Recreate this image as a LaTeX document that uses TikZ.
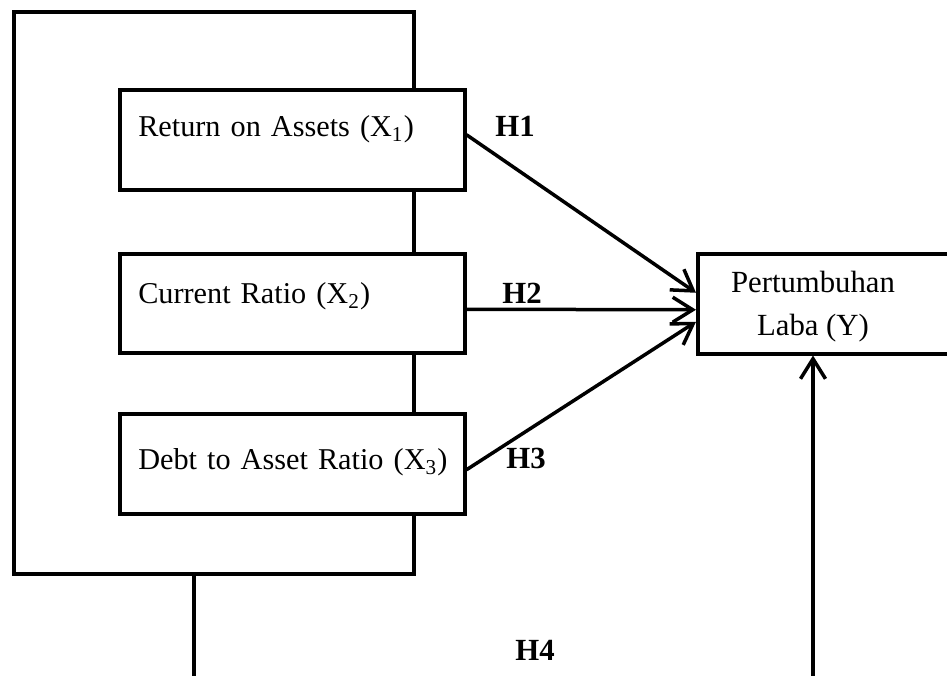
\documentclass[tikz,border=0pt]{standalone}
\usepackage{fontspec}
\setmainfont{Liberation Serif}
\usetikzlibrary{arrows.meta,calc}
\begin{document}
\begin{tikzpicture}[x=0.4pt,y=-0.4pt, line width=1.4pt,
  vbox/.style={draw, fill=white, inner ysep=0pt, inner xsep=7.4pt, text width=123.2pt,
    align=left, minimum height=40pt, anchor=north west, font=\fontsize{12.1}{14}\selectfont},
  arr/.style={-{Straight Barb[length=8pt,width=10pt]}},
  hlab/.style={font=\fontsize{12.3}{14}\selectfont\bfseries, inner sep=0pt}]
\clip (0,0) rectangle (947,675);
% outer frame
\node[draw, anchor=north west, inner sep=0pt, minimum width=160pt, minimum height=224.8pt] (frame) at (12,10) {};
% variable boxes
\node[vbox, text height=18.8pt, text depth=21.2pt] (b1) at (118,88) {\mbox{Return on Assets (X\textsubscript{1})}};
\node[vbox, text height=19.9pt, text depth=19.7pt, minimum height=39.6pt] (b2) at (118,252) {\mbox{Current Ratio (X\textsubscript{2})}};
\node[vbox, text height=22.4pt, text depth=17.6pt] (b3) at (118,412) {\mbox{Debt to Asset Ratio (X\textsubscript{3})}};
% dependent box
\node[draw, anchor=north west, inner sep=0pt, minimum width=105.6pt, minimum height=40pt] (ybox) at (696,252) {};
\node[align=center, font=\fontsize{12.3}{17.2}\selectfont] (ytext) at (813,307) {Pertumbuhan\\Laba (Y)};
% arrows
\draw[arr] ($(b1.east)+(0,-5)$) -- ($(ybox.west)+(0,-11)$);
\draw[arr] ($(b2.east)+(0,6)$) -- ($(ybox.west)+(0,6)$);
\draw[arr] ($(b3.east)+(0,6)$) -- ($(ybox.west)+(0,18)$);
% H4 lines
\coordinate (stembot) at (194,685);
\draw (frame.south -| stembot) -- (stembot);
\coordinate (h4bot) at (813,685);
\draw[arr] (h4bot) -- (ybox.south -| h4bot);
% labels
\node[hlab] (h1) at (515,126) {H1};
\node[hlab] (h2) at (522,293) {H2};
\node[hlab] (h3) at (526,458) {H3};
\node[hlab] (h4) at (535,650) {H4};
\end{tikzpicture}
\end{document}
